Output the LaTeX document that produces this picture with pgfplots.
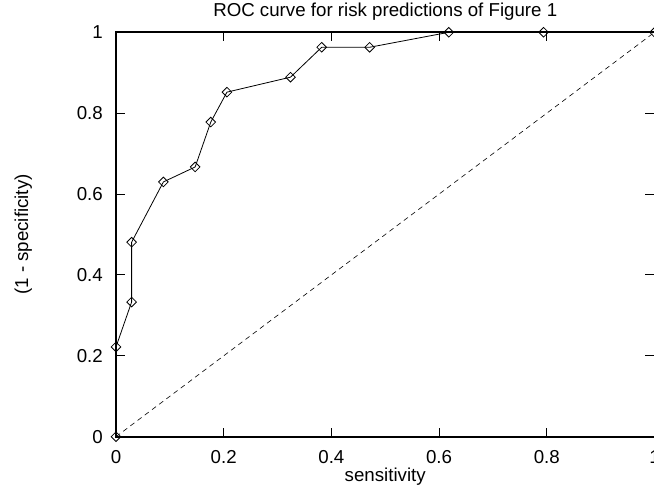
\documentclass[border=0pt]{standalone}
\usepackage{fontspec}
\setmainfont{Liberation Sans}
\usepackage{pgfplots}
\pgfplotsset{compat=1.18}
\begin{document}
\begin{tikzpicture}[font=\fontsize{18.7}{22}\selectfont]
\begin{axis}[
    scale only axis,
    width=538.5pt, height=404.4pt,
    xmin=0, xmax=1, ymin=0, ymax=1,
    xtick={0,0.2,0.4,0.6,0.8,1},
    ytick={0,0.2,0.4,0.6,0.8,1},
    tick align=inside,
    major tick length=9pt,
    axis line style={line width=1.8pt},
    tick style={line width=1pt, black},
    /pgf/number format/assume math mode=true,
    xticklabel style={anchor=base, inner sep=0pt, yshift=-27pt},
    yticklabel style={anchor=east, inner sep=0pt, xshift=-13pt},
    title={ROC curve for risk predictions of Figure 1},
    title style={at={(axis description cs:0.5,1)}, anchor=base, yshift=10pt},
    xlabel={sensitivity},
    xlabel style={at={(axis description cs:0.5,0)}, anchor=base, yshift=-45pt},
    ylabel={(1 - specificity)},
    ylabel style={at={(axis description cs:-0.1634,0.5)}, anchor=base, rotate=0},
    clip=false,
]
\addplot[black, line width=0.6pt, dash pattern=on 5pt off 4pt] coordinates {(0,0) (1,1)};
\addplot[black, line width=0.8pt, mark=square, mark size=3.4pt,
    mark options={rotate=45, solid, line width=0.8pt}] coordinates {
    (0,0) (0,0.222) (0.029,0.333) (0.029,0.481) (0.088,0.630)
    (0.147,0.667) (0.176,0.778) (0.206,0.852) (0.324,0.889)
    (0.382,0.963) (0.471,0.963) (0.618,1) (0.794,1) (1,1)
};
\coordinate (bl) at (rel axis cs:0,0);
\coordinate (tr) at (rel axis cs:1,1);
\end{axis}
\pgfresetboundingbox
\useasboundingbox ([shift={(-116pt,-51.3pt)}]bl) rectangle ([shift={(-0.5pt,32.3pt)}]tr);
\end{tikzpicture}
\end{document}
